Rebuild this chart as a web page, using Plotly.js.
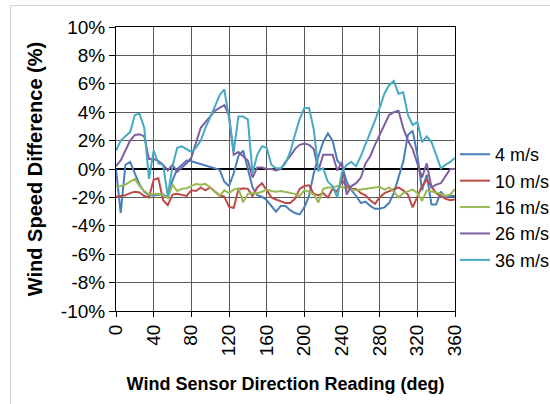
<!DOCTYPE html>
<html>
<head>
<meta charset="utf-8">
<script src="https://cdn.plot.ly/plotly-3.0.1.min.js"></script>
<style>
  html, body { margin: 0; padding: 0; width: 550px; height: 404px; overflow: hidden; background: #fff; }
  #frame { position: absolute; left: 10px; top: 5px; width: 600px; height: 500px; border: 1px solid #d4d4d4; }
  #chart { position: absolute; left: 0; top: 0; width: 550px; height: 404px; }
</style>
</head>
<body>
<div id="frame"></div>
<div id="chart"></div>
<script>
// Sensor direction reading (deg), sampled every 5 degrees
const directions = [
  0, 5, 10, 15, 20, 25, 30, 35, 40, 45, 50, 55, 60, 65, 70, 75, 80, 85,
  90, 95, 100, 105, 110, 115, 120, 125, 130, 135, 140, 145, 150, 155, 160, 165, 170, 175,
  180, 185, 190, 195, 200, 205, 210, 215, 220, 225, 230, 235, 240, 245, 250, 255, 260, 265,
  270, 275, 280, 285, 290, 295, 300, 305, 310, 315, 320, 325, 330, 335, 340, 345, 350, 355, 360
];

// Wind speed difference (%) per wind speed
const diff4 = [
  0.0, -3.1, 0.3, 0.5, -0.3, -1.1, -1.6, -1.85,
  -1.85, -1.8, -1.8, -2.0, -0.8, 0.0, 0.3, 0.6,
  0.55, 0.45, 0.35, 0.2, 0.1, 0.0, -0.05, -0.9,
  -1.2, -0.3, 0.9, 1.3, 0.0, -1.3, -1.85, -1.95,
  -2.2, -2.6, -3.0, -2.6, -2.6, -2.9, -3.1, -3.2,
  -2.7, -1.9, -0.3, 0.9, 1.9, 2.5, 2.0, 0.6,
  0.2, -0.9, -1.5, -1.9, -2.4, -2.3, -2.6, -2.8,
  -2.8, -2.7, -2.4, -1.7, -0.6, 0.5, 2.4, 2.7,
  1.0, -1.5, -0.4, -2.5, -2.5, -1.6, -2.0, -1.9,
  -1.9
];
const diff10 = [
  -1.95, -1.9, -1.85, -1.7, -1.6, -1.65, -1.9, -2.0,
  -0.75, -0.65, -2.2, -2.55, -1.8, -1.75, -1.85, -1.9,
  -1.5, -1.55, -1.3, -1.5, -1.3, -1.6, -1.85, -1.95,
  -2.65, -2.75, -1.45, -1.35, -1.4, -1.9, -1.3, -1.0,
  -1.5, -2.0, -2.15, -2.3, -2.4, -2.4, -2.1, -1.4,
  -1.2, -1.15, -1.75, -1.85, -1.7, -2.0, -1.4, -1.6,
  -0.8, -1.2, -1.4, -1.4, -1.7, -1.85, -2.2, -2.45,
  -2.0, -1.7, -1.55, -1.45, -1.3, -1.5, -1.8, -2.7,
  -2.0, -1.2, -0.75, -1.2, -1.7, -1.9, -2.1, -2.2,
  -2.15
];
const diff16 = [
  -1.24, -1.2, -1.1, -0.9, -0.7, -1.2, -1.55, -1.8,
  -1.8, -1.75, -1.85, -2.05, -1.1, -1.55, -1.4, -1.35,
  -1.2, -1.05, -1.1, -1.05, -1.3, -1.6, -1.9, -1.5,
  -1.7, -1.45, -1.35, -2.35, -1.75, -1.7, -1.7, -1.6,
  -1.45, -1.55, -1.6, -1.55, -1.6, -1.65, -1.75, -1.9,
  -1.5, -1.6, -1.8, -2.35, -1.4, -1.3, -1.3, -1.2,
  -1.3, -1.35, -1.45, -1.5, -1.45, -1.4, -1.35, -1.3,
  -1.25, -1.45, -1.3, -1.6, -2.0, -1.7, -1.55, -1.45,
  -1.7, -2.25, -1.5, -1.55, -1.65, -1.75, -1.9, -1.8,
  -1.4
];
const diff26 = [
  0.2, 0.6, 1.3, 2.0, 2.4, 2.45, 2.3, 0.7,
  0.7, 0.55, 0.3, -0.1, 0.3, -0.2, 0.1, 0.4,
  0.8, 1.8, 2.9, 3.3, 3.7, 4.1, 4.3, 4.5,
  3.8, 1.0, 1.2, 0.9, 0.6, -0.6, 0.1, 0.1,
  0.0, 0.0, -0.1, 0.0, 0.5, 0.9, 1.4, 1.7,
  1.8, 1.7, 1.4, -0.1, 1.0, 1.0, 1.0, -0.1,
  0.5, -1.8, -1.2, -1.0, -0.6, 0.4, 0.9, 1.7,
  2.4, 3.2, 3.8, 4.0, 4.1, 2.9, 2.0, 1.4,
  0.4, -0.6, 0.4, -1.3, -1.1, -1.0, -0.5, 0.0,
  0.0
];
const diff36 = [
  1.3, 2.0, 2.3, 2.6, 3.8, 3.9, 2.9, -0.7,
  1.3, 0.4, 0.3, -1.9, 0.2, 1.5, 1.6, 1.4,
  1.2, 1.5, 2.0, 2.9, 3.6, 4.4, 5.2, 5.6,
  3.6, 1.2, 3.7, 3.7, 3.5, -0.3, 1.0, 1.6,
  1.5, 0.3, 0.05, 0.05, 0.4, 1.2, 2.4, 3.5,
  4.3, 4.3, 2.8, -0.1, 0.05, -0.9, -1.2, -2.0,
  -0.2, 0.3, 0.5, 0.2, 0.9, 1.7, 2.5, 3.4,
  4.3, 5.3, 5.9, 6.2, 5.3, 5.4, 3.8, 3.1,
  3.3, 1.9, 2.3, 1.9, 1.0, 0.05, 0.3, 0.5,
  0.8
];

const seriesNames = ['4 m/s', '10 m/s', '16 m/s', '26 m/s', '36 m/s'];
const seriesColors = ['#4a7ebb', '#be4b48', '#98b954', '#7d60a0', '#46aac5'];
const seriesValues = [diff4, diff10, diff16, diff26, diff36];

const xTickVals = [0, 40, 80, 120, 160, 200, 240, 280, 320, 360];
const xTickText = ['0', '40', '80', '120', '160', '200', '240', '280', '320', '360'];
const yTickVals = [-10, -8, -6, -4, -2, 0, 2, 4, 6, 8, 10];
const yTickText = ['-10%', '-8%', '-6%', '-4%', '-2%', '0%', '2%', '4%', '6%', '8%', '10%'];

const FONT = 'Liberation Sans, Arial, Helvetica, sans-serif';

const traces = seriesNames.map((name, i) => ({
  type: 'scatter',
  mode: 'lines',
  name: name,
  x: directions,
  y: seriesValues[i],
  line: { color: seriesColors[i], width: 2 },
  hoverinfo: 'skip'
}));

const gridColor = '#5a5a5a';

const layout = {
  width: 550,
  height: 404,
  margin: { l: 116, r: 95, t: 27, b: 93, pad: 0 },
  paper_bgcolor: 'rgba(0,0,0,0)',
  plot_bgcolor: '#ffffff',
  font: { family: FONT, size: 18, color: '#000000' },
  showlegend: true,
  legend: {
    // placed against the whole figure so it sits in the right margin
    xref: 'container', yref: 'paper',
    x: 455 / 550, xanchor: 'left',
    y: 0.366, yanchor: 'middle',
    bgcolor: 'rgba(0,0,0,0)',
    borderwidth: 0,
    font: { family: FONT, size: 18, color: '#000000' },
    itemclick: false, itemdoubleclick: false
  },
  xaxis: {
    range: [0, 360],
    tickmode: 'array',
    tickvals: xTickVals,
    ticktext: xTickText,
    tickangle: -90,
    tickfont: { family: FONT, size: 19, color: '#000000' },
    ticks: 'outside', ticklen: 5, tickcolor: '#000000', tickwidth: 1,
    showgrid: true, gridcolor: gridColor, gridwidth: 1,
    showline: true, linecolor: '#000000', linewidth: 1, mirror: true,
    zeroline: false,
    title: {
      text: 'Wind Sensor Direction Reading (deg)',
      font: { family: FONT, size: 18, color: '#000000', weight: 'bold' },
      standoff: 22
    }
  },
  yaxis: {
    range: [-10, 10],
    tickmode: 'array',
    tickvals: yTickVals,
    ticktext: yTickText,
    tickfont: { family: FONT, size: 19, color: '#000000' },
    ticks: 'outside', ticklen: 6, tickcolor: '#000000', tickwidth: 1,
    showgrid: true, gridcolor: gridColor, gridwidth: 1,
    showline: true, linecolor: '#000000', linewidth: 1, mirror: true,
    zeroline: true, zerolinecolor: '#000000', zerolinewidth: 2,
    title: {
      text: 'Wind Speed Difference (%)',
      font: { family: FONT, size: 20, color: '#000000', weight: 'bold' },
      standoff: 12
    }
  }
};

Plotly.newPlot('chart', traces, layout, { staticPlot: true, displayModeBar: false });
</script>
</body>
</html>
